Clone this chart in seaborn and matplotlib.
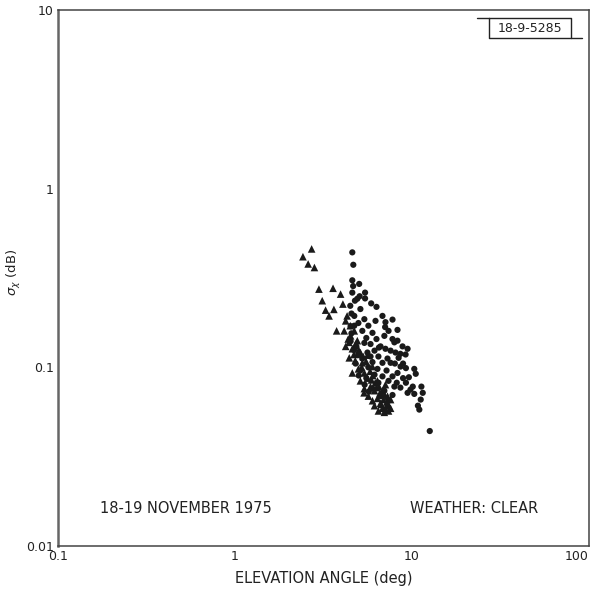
import numpy as np
import pandas as pd
import matplotlib
matplotlib.use("Agg")
import matplotlib.pyplot as plt
import seaborn as sns
from matplotlib.lines import Line2D

# ---- data ----
tri_elev = [2.71, 2.42, 2.59, 2.81, 2.98, 3.58, 3.95, 3.11, 4.07, 3.25, 3.62, 3.40, 4.22, 3.75, 5.36,
            4.30, 4.48, 4.72, 4.36, 4.91, 4.60, 5.11, 4.42, 4.78, 5.24, 4.98, 5.38, 4.60, 5.60, 5.11,
            5.83, 5.38, 6.14, 5.67, 6.38, 5.98, 6.64, 7.18, 6.81, 7.37, 7.57, 6.46, 6.98, 6.14, 4.14,
            4.22, 5.98, 6.38, 6.81, 7.27, 6.51, 7.08, 7.57, 5.60,
            4.5, 4.8, 5.0, 5.3, 5.5, 5.8, 6.0, 6.2, 6.6, 6.9, 7.2, 7.0, 6.3, 5.9, 5.2, 4.7, 4.4, 6.7, 7.4, 7.1]
tri_sigma = [0.46, 0.416, 0.379, 0.362, 0.274, 0.277, 0.257, 0.236, 0.226, 0.209, 0.211, 0.194, 0.182, 0.160, 0.072,
             0.194, 0.171, 0.160, 0.144, 0.141, 0.127, 0.121, 0.113, 0.109, 0.106, 0.098, 0.093, 0.093, 0.087, 0.084,
             0.078, 0.076, 0.074, 0.069, 0.067, 0.065, 0.063, 0.061, 0.059, 0.057, 0.059, 0.057, 0.056, 0.061, 0.160,
             0.131, 0.101, 0.084, 0.074, 0.069, 0.078, 0.080, 0.066, 0.117,
             0.150, 0.135, 0.125, 0.115, 0.108, 0.095, 0.090, 0.082, 0.072, 0.066, 0.064, 0.070, 0.077, 0.085, 0.100,
             0.118, 0.138, 0.062, 0.061, 0.058]

circ_elev = [4.60, 4.66, 4.60, 5.03, 4.65, 5.43, 5.06, 5.43, 4.76, 5.88, 6.30,
             6.81, 7.05, 8.28, 6.98, 7.76, 7.95, 7.57, 8.07, 8.6, 9.2, 8.4, 6.5, 8.62, 9.24, 10.3, 10.5,
             9.24, 10.1, 11.3, 9.44, 10.3, 11.5, 11.2, 10.8, 11.0, 12.6,
             4.60, 4.91, 4.48, 5.11, 4.72, 5.38, 4.98, 5.67, 5.24, 5.98, 5.52, 6.30, 5.83, 6.64, 6.14,
             7.08, 5.60, 6.46, 7.27, 5.24, 5.98, 6.81, 7.57, 5.67, 6.38, 7.18, 5.11, 6.14, 6.81, 7.76,
             5.52, 7.37, 6.46, 7.95, 5.98, 6.98, 7.76, 6.64, 7.37, 8.28, 8.84, 9.44, 8.28, 5.38, 4.85,
             4.98, 5.83, 4.72, 6.22, 7.08, 7.37, 7.76,
             4.55, 4.5, 4.55, 4.5, 4.7, 4.8, 5.0, 5.4, 5.7, 8.9, 9.6, 8.2, 8.6, 8.0, 8.9, 9.8]
circ_sigma = [0.44, 0.375, 0.307, 0.293, 0.285, 0.262, 0.250, 0.243, 0.236, 0.228, 0.218,
              0.194, 0.168, 0.162, 0.150, 0.144, 0.138, 0.124, 0.121, 0.119, 0.118, 0.113, 0.129, 0.101, 0.099, 0.098, 0.092,
              0.082, 0.078, 0.078, 0.072, 0.071, 0.072, 0.066, 0.061, 0.058, 0.044,
              0.262, 0.242, 0.221, 0.212, 0.194, 0.186, 0.177, 0.171, 0.160, 0.156, 0.146, 0.144, 0.135, 0.131, 0.124,
              0.127, 0.121, 0.115, 0.112, 0.112, 0.107, 0.106, 0.106, 0.100, 0.098, 0.096, 0.096, 0.091, 0.089, 0.089,
              0.087, 0.084, 0.082, 0.078, 0.076, 0.074, 0.070, 0.069, 0.065, 0.093, 0.131, 0.127, 0.141, 0.137, 0.131,
              0.117, 0.115, 0.171, 0.182, 0.179, 0.160, 0.185,
              0.20, 0.17, 0.155, 0.14, 0.125, 0.105, 0.09, 0.08, 0.073, 0.087, 0.088, 0.082, 0.077, 0.105, 0.105, 0.075]

x_ticks = [0.1, 1, 10, 100]
x_tick_labels = ["0.1", "1", "10", "100"]
y_ticks = [0.01, 0.1, 1, 10]
y_tick_labels = ["0.01", "0.1", "1", "10"]

df = pd.DataFrame({
    "elev": tri_elev + circ_elev,
    "sigma": tri_sigma + circ_sigma,
    "series": ["tri"] * len(tri_elev) + ["circ"] * len(circ_elev),
})

sns.set_style("white")
plt.rcParams["font.family"] = ["DejaVu Sans"]

L, R, T, B = 58, 589, 10, 546
fig = plt.figure(figsize=(5.92, 5.94), dpi=100)
ax = fig.add_axes([L / 592, 1 - B / 594, (R - L) / 592, (B - T) / 594])

sns.scatterplot(data=df[df.series == "tri"], x="elev", y="sigma", marker="^", s=30,
                color="#1a1a1a", edgecolor="none", linewidth=0, ax=ax, legend=False)
sns.scatterplot(data=df[df.series == "circ"], x="elev", y="sigma", marker="o", s=20,
                color="#1a1a1a", edgecolor="none", linewidth=0, ax=ax, legend=False)

ax.set_xscale("log")
ax.set_yscale("log")
ax.set_xlim(0.1, 100)
ax.set_ylim(0.01, 10)
ax.set_xticks(x_ticks)
ax.set_xticklabels(x_tick_labels)
ax.set_yticks(y_ticks)
ax.set_yticklabels(y_tick_labels)
ax.minorticks_off()
ax.tick_params(axis="both", which="major", direction="in", length=8, width=1.0,
               color="#333333", labelsize=9, labelcolor="#222222", pad=3)
ax.get_xticklabels()[-1].set_horizontalalignment("right")
ax.get_xticklabels()[-1].set_x(100)

for side, sp in ax.spines.items():
    sp.set_color("#444444")
    sp.set_linewidth(1.1)
ax.spines["left"].set_linewidth(1.8)
ax.spines["left"].set_color("#666666")

ax.set_xlabel("ELEVATION ANGLE (deg)", fontsize=10.5, color="#222222", labelpad=6)
ax.set_ylabel(r"$\sigma_\chi$ (dB)", fontsize=9.5, color="#222222")
ax.yaxis.set_label_coords(-0.066, 0.51)

W, H = R - L, B - T
ax.text((100 - L) / W, (B - 513) / H, "18-19 NOVEMBER 1975", transform=ax.transAxes, fontsize=10.5,
        color="#222222", ha="left", va="baseline")
ax.text((410 - L) / W, (B - 513) / H, "WEATHER: CLEAR", transform=ax.transAxes, fontsize=10.5,
        color="#222222", ha="left", va="baseline")

# label box at top right
bx0, bx1 = (489 - L) / W, (571 - L) / W
by0, by1 = (B - 38) / H, (B - 18) / H
ax.add_line(Line2D([bx0, bx1, bx1, bx0, bx0], [by1, by1, by0, by0, by1], transform=ax.transAxes,
                   color="#222222", lw=1.0))
ax.add_line(Line2D([(477 - L) / W, bx0], [by1, by1], transform=ax.transAxes, color="#222222", lw=1.0))
ax.add_line(Line2D([bx1, (582 - L) / W], [by0, by0], transform=ax.transAxes, color="#222222", lw=1.0))
ax.text((bx0 + bx1) / 2, (by0 + by1) / 2, "18-9-5285", transform=ax.transAxes, fontsize=9,
        color="#222222", ha="center", va="center")

fig.savefig("out.png", dpi=100, facecolor="white")
